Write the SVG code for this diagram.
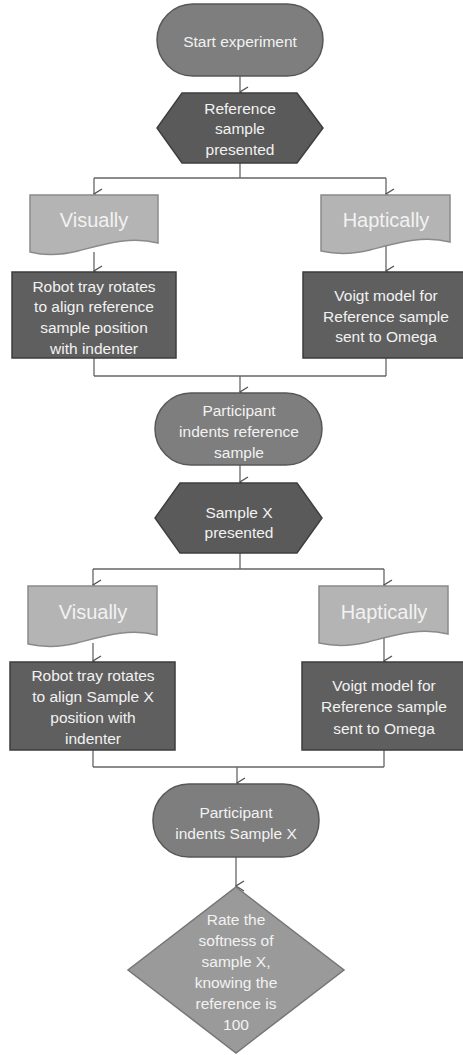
<svg xmlns="http://www.w3.org/2000/svg" width="463" height="1055" viewBox="0 0 463 1055">
<style>
text{font-family:"Liberation Sans",Arial,sans-serif;font-size:15.5px;fill:#f2f2f2;text-anchor:middle}
.big{font-size:20px}
.term{fill:#7e7e7e;stroke:#575757;stroke-width:1.5}
.hex{fill:#5a5a5a;stroke:#3f3f3f;stroke-width:1.5}
.doc{fill:#b4b4b4;stroke:#8a8a8a;stroke-width:1.5}
.proc{fill:#5f5f5f;stroke:#3c3c3c;stroke-width:1.5}
.dec{fill:#9a9a9a;stroke:#767676;stroke-width:1.5}
.c{fill:none;stroke:#666;stroke-width:1.3}
</style>
<defs>
<marker id="ah" markerWidth="12" markerHeight="10" refX="6" refY="9" orient="auto" markerUnits="userSpaceOnUse" viewBox="0 0 12 10">
<path d="M1,1 L6,9 L11,1" fill="none" stroke="#555" stroke-width="1.4"/>
</marker>
</defs>
<g id="connectors">
<line class="c" x1="240" y1="76" x2="240" y2="92" marker-end="url(#ah)"/>
<path class="c" d="M240,163 V178 M94,178 H386"/>
<line class="c" x1="94" y1="178" x2="94" y2="194" marker-end="url(#ah)"/>
<line class="c" x1="386" y1="178" x2="386" y2="194" marker-end="url(#ah)"/>
<line class="c" x1="94" y1="252" x2="94" y2="271" marker-end="url(#ah)"/>
<line class="c" x1="386" y1="246" x2="386" y2="271" marker-end="url(#ah)"/>
<path class="c" d="M94,358 V376 M386,358 V376 M94,376 H386"/>
<line class="c" x1="240" y1="376" x2="240" y2="392" marker-end="url(#ah)"/>
<line class="c" x1="240" y1="465" x2="240" y2="482" marker-end="url(#ah)"/>
<path class="c" d="M240,553 V569 M93,569 H384"/>
<line class="c" x1="93" y1="569" x2="93" y2="585" marker-end="url(#ah)"/>
<line class="c" x1="384" y1="569" x2="384" y2="585" marker-end="url(#ah)"/>
<line class="c" x1="93" y1="643" x2="93" y2="661" marker-end="url(#ah)"/>
<line class="c" x1="384" y1="638" x2="384" y2="661" marker-end="url(#ah)"/>
<path class="c" d="M93,750 V767 M384,750 V767 M93,767 H384"/>
<line class="c" x1="237" y1="767" x2="237" y2="783" marker-end="url(#ah)"/>
<line class="c" x1="236" y1="857" x2="236" y2="886" marker-end="url(#ah)"/>
</g>
<g id="start">
<rect class="term" x="157" y="4" width="166" height="72" rx="36"/>
<text x="240" y="47">Start experiment</text>
</g>
<g id="ref-presented">
<polygon class="hex" points="182,93 297,93 323,128 297,163 182,163 157,128"/>
<text x="240" y="113.5">Reference</text>
<text x="240" y="134">sample</text>
<text x="240" y="155">presented</text>
</g>
<g id="visually1">
<path class="doc" d="M30,195 H158 V243 C130,236 105,244 78,251 C58,256 42,255 30,252 Z"/>
<text class="big" x="94" y="227">Visually</text>
</g>
<g id="haptically1">
<path class="doc" d="M321,195 H450 V242 C422,235 397,243 370,250 C350,255 334,254 321,251 Z"/>
<text class="big" x="386" y="227">Haptically</text>
</g>
<g id="robot1">
<rect class="proc" x="12" y="272" width="164" height="86"/>
<text x="94" y="291.5">Robot tray rotates</text>
<text x="94" y="312">to align reference</text>
<text x="94" y="333">sample position</text>
<text x="94" y="353.5">with indenter</text>
</g>
<g id="voigt1">
<rect class="proc" x="303" y="272" width="166" height="86"/>
<text x="386" y="301">Voigt model for</text>
<text x="386" y="321.5">Reference sample</text>
<text x="386" y="342">sent to Omega</text>
</g>
<g id="indent-ref">
<rect class="term" x="155" y="393" width="167" height="72" rx="36"/>
<text x="239" y="415.5">Participant</text>
<text x="239" y="436.5">indents reference</text>
<text x="239" y="457.5">sample</text>
</g>
<g id="samplex-presented">
<polygon class="hex" points="180,483 297,483 322,518 297,553 180,553 155,518"/>
<text x="239" y="517.5">Sample X</text>
<text x="239" y="538">presented</text>
</g>
<g id="visually2">
<path class="doc" d="M28,586 H157 V635 C129,628 104,636 77,643 C57,648 41,647 28,644 Z"/>
<text class="big" x="93" y="619">Visually</text>
</g>
<g id="haptically2">
<path class="doc" d="M319,586 H448 V634 C420,627 395,635 368,642 C348,647 332,646 319,643 Z"/>
<text class="big" x="384" y="619">Haptically</text>
</g>
<g id="robot2">
<rect class="proc" x="10" y="662" width="165" height="88"/>
<text x="93" y="681">Robot tray rotates</text>
<text x="93" y="702">to align Sample X</text>
<text x="93" y="723">position with</text>
<text x="93" y="744">indenter</text>
</g>
<g id="voigt2">
<rect class="proc" x="302" y="662" width="166" height="88"/>
<text x="384" y="691">Voigt model for</text>
<text x="384" y="712">Reference sample</text>
<text x="384" y="733.5">sent to Omega</text>
</g>
<g id="indent-x">
<rect class="term" x="153" y="784" width="166" height="73" rx="36"/>
<text x="236" y="817.5">Participant</text>
<text x="236" y="838.5">indents Sample X</text>
</g>
<g id="rate">
<polygon class="dec" points="236,887 344,970 236,1053 128,970"/>
<text x="236" y="925">Rate the</text>
<text x="236" y="946">softness of</text>
<text x="236" y="967">sample X,</text>
<text x="236" y="988">knowing the</text>
<text x="236" y="1008.5">reference is</text>
<text x="236" y="1029.5">100</text>
</g>
</svg>
